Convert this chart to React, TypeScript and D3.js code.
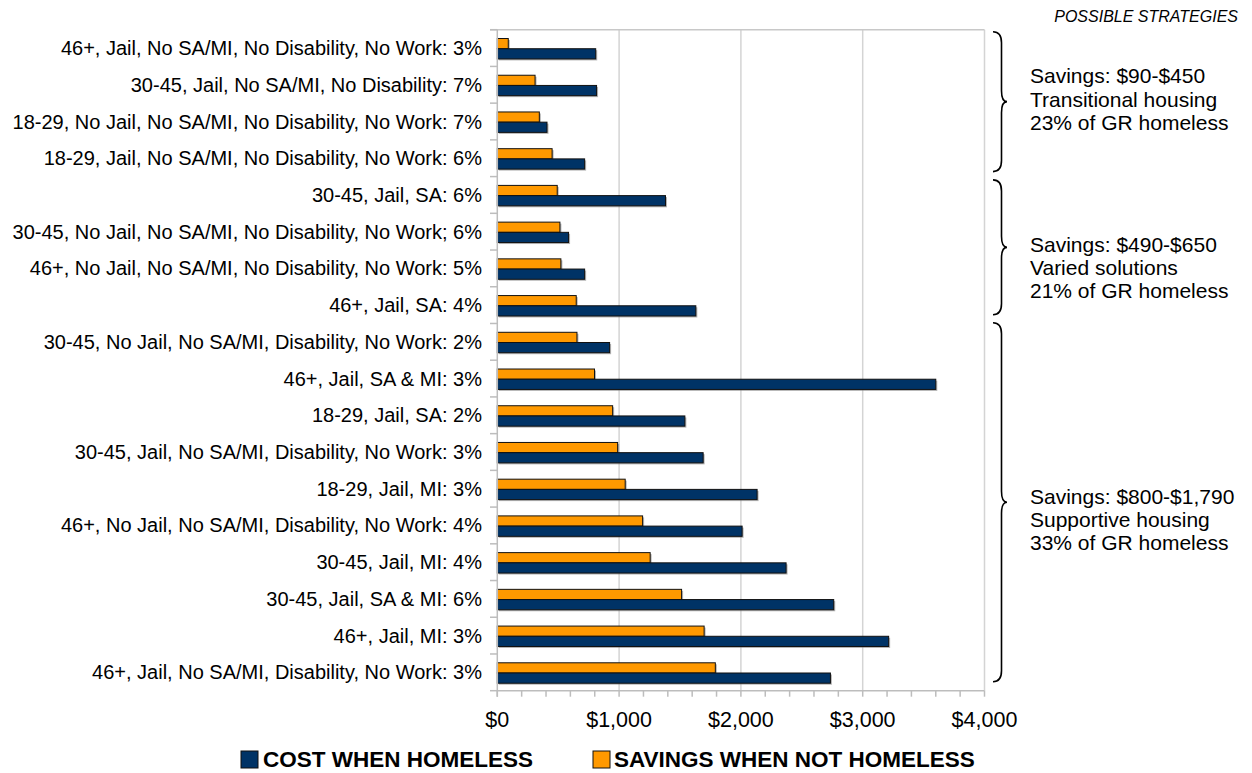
import React from "react";
import * as d3 from "d3";

const categories = [
  "46+, Jail, No SA/MI, No Disability, No Work: 3%",
  "30-45, Jail, No SA/MI, No Disability: 7%",
  "18-29, No Jail, No SA/MI, No Disability, No Work: 7%",
  "18-29, Jail, No SA/MI, No Disability, No Work: 6%",
  "30-45, Jail, SA: 6%",
  "30-45, No Jail, No SA/MI, No Disability, No Work; 6%",
  "46+, No Jail, No SA/MI, No Disability, No Work: 5%",
  "46+, Jail, SA: 4%",
  "30-45, No Jail, No SA/MI, Disability, No Work: 2%",
  "46+, Jail, SA & MI: 3%",
  "18-29, Jail, SA: 2%",
  "30-45, Jail, No SA/MI, Disability, No Work: 3%",
  "18-29, Jail, MI: 3%",
  "46+, No Jail, No SA/MI, Disability, No Work: 4%",
  "30-45, Jail, MI: 4%",
  "30-45, Jail, SA & MI: 6%",
  "46+, Jail, MI: 3%",
  "46+, Jail, No SA/MI, Disability, No Work: 3%",
];

const costWhenHomeless = [808, 815, 408, 717, 1381, 585, 717, 1630, 922, 3600, 1540, 1690, 2133, 2010, 2371, 2762, 3213, 2735];
const savingsWhenNotHomeless = [90, 310, 345, 450, 492, 514, 522, 648, 654, 798, 947, 988, 1050, 1193, 1255, 1513, 1698, 1790];

const xTicks = [0, 1000, 2000, 3000, 4000];
const minorTicks = d3.range(0, 4001, 200);

const seriesNames = ["COST WHEN HOMELESS", "SAVINGS WHEN NOT HOMELESS"];
const seriesColors = ["#003366", "#FF9900"];

const strategyTitle = "POSSIBLE STRATEGIES";
const strategyGroups = [
  { from: 0, to: 4, lines: ["Savings: $90-$450", "Transitional housing", "23% of GR homeless"] },
  { from: 4, to: 8, lines: ["Savings: $490-$650", "Varied solutions", "21% of GR homeless"] },
  { from: 8, to: 18, lines: ["Savings: $800-$1,790", "Supportive housing", "33% of GR homeless"] },
];

const FONT = "'Liberation Sans', Arial, Helvetica, sans-serif";

function bracePath(x0: number, x1: number, x2: number, top: number, mid: number, bottom: number, r: number) {
  return [
    `M${x0},${top}`,
    `Q${x1},${top} ${x1},${top + r}`,
    `L${x1},${mid - r}`,
    `Q${x1},${mid} ${x2},${mid}`,
    `Q${x1},${mid} ${x1},${mid + r}`,
    `L${x1},${bottom - r}`,
    `Q${x1},${bottom} ${x0},${bottom}`,
  ].join(" ");
}

export default function App() {
  const W = 1252;
  const H = 773;
  const x = d3.scaleLinear().domain([0, 4000]).range([497.3, 984.5]);
  const y = d3.scaleBand<string>().domain(categories).range([29.7, 690.7]);
  const bw = y.bandwidth();
  const barH = bw * 0.278;
  const barOff = bw * 0.24;
  const plotTop = y.range()[0];
  const plotBottom = y.range()[1];
  const x0 = x(0);

  const boundaryY = (i: number) => plotTop + i * bw;

  const textLineOffsets = [
    [-19, 5, 28.3],
    [4.7, 27.3, 50.7],
    [2, 24.3, 47.6],
  ];

  return (
    <svg width={W} height={H} style={{ display: "block", position: "absolute", left: 0, top: 0 }} fontFamily={FONT}>
      <rect x={0} y={0} width={W} height={H} fill="#fff" />
      {/* gridlines */}
      {xTicks.slice(1).map((t) => (
        <line key={"g" + t} x1={x(t)} x2={x(t)} y1={plotTop} y2={plotBottom} stroke="#d4d4d4" strokeWidth={1.5} />
      ))}
      {/* top border */}
      <line x1={490} x2={x(4000)} y1={plotTop} y2={plotTop} stroke="#c8c8c8" strokeWidth={1.5} />
      {/* bars */}
      {categories.map((c, i) => {
        const y0 = (y(c) as number) + barOff;
        const vals = [savingsWhenNotHomeless[i], costWhenHomeless[i]];
        const cols = [seriesColors[1], seriesColors[0]];
        return (
          <g key={c}>
            {vals.map((v, k) => (
              <g key={k}>
                <rect x={x0 + 1.5} y={y0 + k * barH + 1.5} width={x(v) - x0} height={barH} fill="#777" opacity={0.55} />
                <rect x={x0} y={y0 + k * barH} width={x(v) - x0} height={barH} fill={cols[k]} stroke="#111" strokeWidth={1} />
              </g>
            ))}
          </g>
        );
      })}
      {/* left axis */}
      <line x1={x0} x2={x0} y1={plotTop} y2={plotBottom + 6} stroke="#bdbdbd" strokeWidth={1.5} />
      {d3.range(categories.length + 1).map((i) => (
        <line key={"ct" + i} x1={490} x2={x0} y1={boundaryY(i)} y2={boundaryY(i)} stroke="#bdbdbd" strokeWidth={1.5} />
      ))}
      {/* bottom axis */}
      <line x1={x0} x2={x(4000)} y1={plotBottom} y2={plotBottom} stroke="#bdbdbd" strokeWidth={1.5} />
      {minorTicks.map((t) => (
        <line key={"mt" + t} x1={x(t)} x2={x(t)} y1={plotBottom} y2={plotBottom + 6} stroke="#bdbdbd" strokeWidth={1.5} />
      ))}
      {xTicks.map((t) => (
        <text key={"xl" + t} x={x(t)} y={727} textAnchor="middle" fontSize={21.5} fill="#000">
          {d3.format("$,")(t)}
        </text>
      ))}
      {/* category labels */}
      {categories.map((c) => (
        <text key={"cl" + c} x={482} y={(y(c) as number) + bw / 2 + 7} textAnchor="end" fontSize={20} fill="#000">
          {c}
        </text>
      ))}
      {/* strategies */}
      <text x={1238} y={21.5} textAnchor="end" fontSize={16} fontStyle="italic" fill="#000">
        {strategyTitle}
      </text>
      {strategyGroups.map((g, gi) => {
        const insets = [
          [2, -5],
          [3.3, -8.7],
          [-0.7, -9],
        ][gi];
        const top = boundaryY(g.from) + insets[0];
        const bottom = boundaryY(g.to) + insets[1];
        const mid = (top + bottom) / 2;
        return (
          <g key={"sg" + gi}>
            <path d={bracePath(993, 1001.5, 1007, top, mid, bottom, 11)} fill="none" stroke="#000" strokeWidth={1.6} />
            {g.lines.map((l, li) => (
              <text key={li} x={1030} y={mid + textLineOffsets[gi][li]} fontSize={21} fill="#000">
                {l}
              </text>
            ))}
          </g>
        );
      })}
      {/* legend */}
      <rect x={241} y={751} width={17} height={17} fill={seriesColors[0]} stroke="#111" strokeWidth={1} />
      <text x={263} y={767} fontSize={22.5} fontWeight="bold" fill="#000">
        {seriesNames[0]}
      </text>
      <rect x={593} y={751} width={17} height={17} fill={seriesColors[1]} stroke="#111" strokeWidth={1} />
      <text x={614} y={767} fontSize={22.5} fontWeight="bold" fill="#000">
        {seriesNames[1]}
      </text>
    </svg>
  );
}
